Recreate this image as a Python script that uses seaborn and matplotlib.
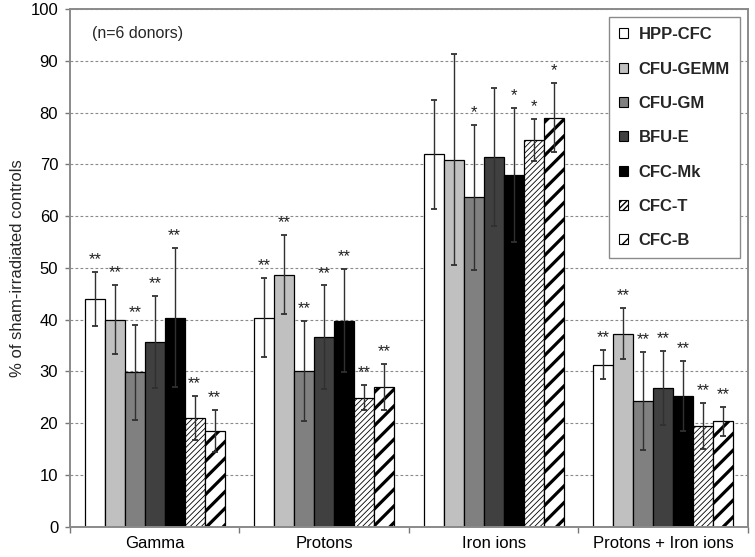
import numpy as np
import pandas as pd
import matplotlib.pyplot as plt
import seaborn as sns
from matplotlib.patches import Patch
from matplotlib.ticker import FixedLocator, MultipleLocator

groups = ['Gamma', 'Protons', 'Iron ions', 'Protons + Iron ions']
cells = ['HPP-CFC', 'CFU-GEMM', 'CFU-GM', 'BFU-E', 'CFC-Mk', 'CFC-T', 'CFC-B']

# mean % of sham-irradiated controls (one list per radiation type, cells in order above)
mean_gamma = [44.0, 40.0, 29.8, 35.7, 40.4, 21.0, 18.5]
mean_protons = [40.4, 48.7, 30.1, 36.6, 39.8, 24.9, 27.0]
mean_iron = [71.9, 70.9, 63.6, 71.4, 67.9, 74.7, 79.0]
mean_both = [31.3, 37.3, 24.3, 26.8, 25.2, 19.5, 20.4]

# error bar half-lengths
sd_gamma = [5.2, 6.7, 9.1, 8.9, 13.4, 4.3, 4.0]
sd_protons = [7.6, 7.7, 9.7, 10.0, 9.9, 2.4, 4.4]
sd_iron = [10.5, 20.4, 14.0, 13.4, 13.0, 4.1, 6.7]
sd_both = [2.8, 5.0, 9.4, 7.1, 6.8, 4.4, 2.8]

# significance marks
sig_gamma = ['**'] * 7
sig_protons = ['**'] * 7
sig_iron = ['', '', '*', '', '*', '*', '*']
sig_both = ['**'] * 7

fills = ['#ffffff', '#c0c0c0', '#808080', '#404040', '#000000', '#ffffff', '#ffffff']
hatches = [None, None, None, None, None, '//////', '//']
hatch_lw = [1.0, 1.0, 1.0, 1.0, 1.0, 0.6, 2.3]

means = [mean_gamma, mean_protons, mean_iron, mean_both]
sds = [sd_gamma, sd_protons, sd_iron, sd_both]
sigs = [sig_gamma, sig_protons, sig_iron, sig_both]

rows = []
for g, m in zip(groups, means):
    for c, v in zip(cells, m):
        rows.append({'group': g, 'cell': c, 'value': v})
df = pd.DataFrame(rows)

sns.set_theme(style='white')
plt.rcParams['font.family'] = ['Liberation Sans', 'DejaVu Sans']

fig = plt.figure(figsize=(7.55, 5.57), dpi=100)
ax = fig.add_axes([0.0927, 0.0544, 0.898, 0.9295])

sns.barplot(data=df, x='group', y='value', hue='cell', order=groups, hue_order=cells,
            palette=fills, saturation=1, width=0.824, gap=0, errorbar=None,
            edgecolor='black', linewidth=0.9, legend=False, ax=ax, zorder=2)

bar_sets = list(ax.containers)[:len(cells)]
for i, cont in enumerate(bar_sets):
    xs = []
    ys = []
    es = []
    for j, bar in enumerate(cont):
        if hatches[i]:
            bar.set_hatch(hatches[i])
            if hasattr(bar, 'set_hatch_linewidth'):
                bar.set_hatch_linewidth(hatch_lw[i])
        xs.append(bar.get_x() + bar.get_width() / 2)
        ys.append(means[j][i])
        es.append(sds[j][i])
    ax.errorbar(xs, ys, yerr=es, fmt='none', ecolor='#303030', elinewidth=1.0,
                capsize=2.5, capthick=1.3, zorder=3)
    for x, y, e, j in zip(xs, ys, es, range(len(xs))):
        s = sigs[j][i]
        if s:
            ax.text(x, y + e + 1.5, s, ha='center', va='baseline', fontsize=12,
                    color='#202020', zorder=4)

ax.set_ylim(0, 100)
ax.set_xlim(-0.5, 3.5)
ax.yaxis.set_major_locator(MultipleLocator(10))
ax.yaxis.grid(True, linestyle=(0, (2.5, 2)), color='#8a8a8a', linewidth=0.8)
ax.set_axisbelow(True)

ax.xaxis.set_minor_locator(FixedLocator([-0.5, 0.5, 1.5, 2.5, 3.5]))
ax.tick_params(axis='x', which='major', length=0, pad=7, labelsize=12, colors='black')
ax.tick_params(axis='x', which='minor', bottom=True, length=4, width=1.0, color='#777777')
ax.tick_params(axis='y', which='major', left=True, length=3.5, width=1.0, color='#777777',
               pad=5, labelsize=12, labelcolor='black')

for sp in ax.spines.values():
    sp.set_color('#8a8a8a')
    sp.set_linewidth(1.4)

ax.set_xlabel('')
ax.set_ylabel('% of sham-irradiated controls', fontsize=12)
ax.yaxis.set_label_coords(-0.067, 0.5)

ax.text(0.032, 0.953, '(n=6 donors)', transform=ax.transAxes, ha='left', va='center',
        fontsize=11.5)

handles = []
for c, f, h, hl in zip(cells, fills, hatches, hatch_lw):
    p = Patch(facecolor=f, edgecolor='black', hatch=h, linewidth=0.8, label=c)
    if h and hasattr(p, 'set_hatch_linewidth'):
        p.set_hatch_linewidth(min(hl, 1.5))
    handles.append(p)
leg = ax.legend(handles=handles, loc='upper right', prop={'weight': 'bold', 'size': 12},
                frameon=True, fancybox=False, framealpha=1, edgecolor='#8a8a8a',
                borderpad=0.6, labelspacing=1.16, handlelength=0.55, handleheight=0.55,
                handletextpad=0.6, borderaxespad=0.5)
leg.get_frame().set_linewidth(1.0)

fig.savefig('out.png', dpi=100)
